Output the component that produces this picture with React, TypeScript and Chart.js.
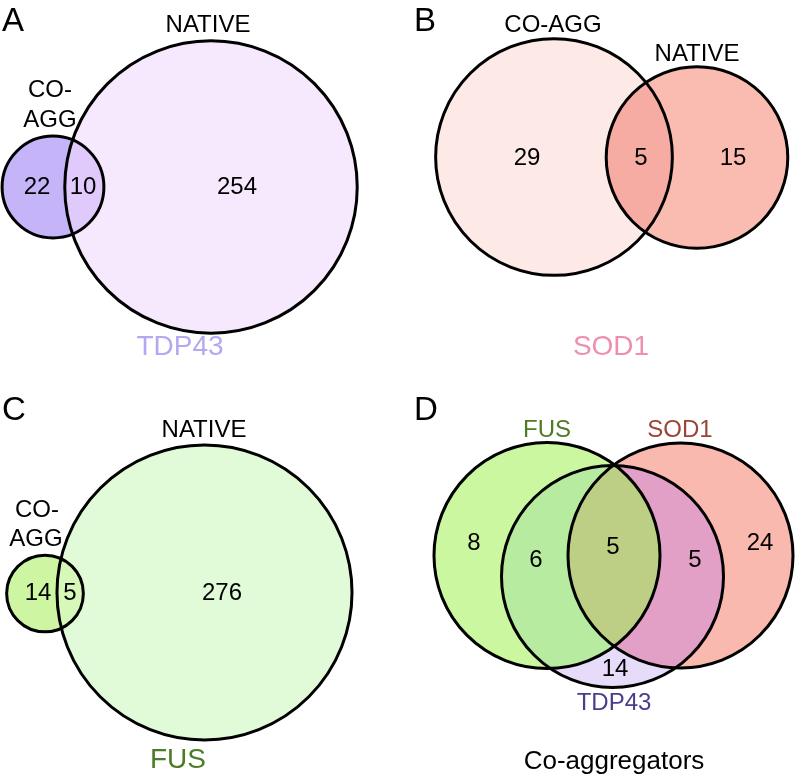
import React, { useEffect, useRef } from "react";
import { Chart, registerables } from "chart.js";

Chart.register(...registerables);

// ---------- DATA ----------
const panelLetters = ["A", "B", "C", "D"];
const setNames = ["TDP43", "SOD1", "FUS"];
// [co-aggregate only, shared, native only]
const tdp43Counts = [22, 10, 254];
const sod1Counts = [29, 5, 15];
const fusCounts = [14, 5, 276];
// co-aggregators: [FUS only, FUS∩TDP43, FUS∩SOD1∩TDP43, SOD1∩TDP43, SOD1 only, TDP43 only]
const coAggCounts = [8, 6, 5, 5, 24, 14];
const pairLabels = ["CO-AGG", "NATIVE"];
const panelDTitle = "Co-aggregators";

// ---------- LAYOUT (data space = 796 x 780) ----------
const FONT = '"Liberation Sans", Arial, Helvetica, sans-serif';
const STROKE = "#000000";

type Circ = { cx: number; cy: number; r: number; fill: string };
type Inter = { idx: number[]; fill: string };
type Txt = { x: number; y: number; t: string; size: number; color: string; align?: CanvasTextAlign };

const total = (a: number[], i: number[]) => i.reduce((s, k) => s + a[k], 0);

// radii proportional to sqrt(set size) in panels A-C
const scaleA = 9.0, scaleB = 20.3, scaleC = 8.8;

const panels: { circles: Circ[]; inters: Inter[] }[] = [
  {
    circles: [
      { cx: 211, cy: 187, r: scaleA * Math.sqrt(total(tdp43Counts, [1, 2])), fill: "#f7e9fd" },
      { cx: 53, cy: 187, r: scaleA * Math.sqrt(total(tdp43Counts, [0, 1])), fill: "#c5b5f8" },
    ],
    inters: [{ idx: [0, 1], fill: "#dfcafb" }],
  },
  {
    circles: [
      { cx: 554, cy: 157, r: scaleB * Math.sqrt(total(sod1Counts, [0, 1])), fill: "#fde9e6" },
      { cx: 697, cy: 157.5, r: scaleB * Math.sqrt(total(sod1Counts, [1, 2])), fill: "#fabbb1" },
    ],
    inters: [{ idx: [0, 1], fill: "#f6aca2" }],
  },
  {
    circles: [
      { cx: 204.5, cy: 592.5, r: scaleC * Math.sqrt(total(fusCounts, [1, 2])), fill: "#e1fad8" },
      { cx: 45, cy: 593.5, r: scaleC * Math.sqrt(total(fusCounts, [0, 1])), fill: "#cdf5a2" },
    ],
    inters: [{ idx: [0, 1], fill: "#d6f8b8" }],
  },
  {
    circles: [
      { cx: 547, cy: 555.5, r: 113, fill: "#ccf7a1" },
      { cx: 680.5, cy: 555.5, r: 112.5, fill: "#fab9ae" },
      { cx: 612.5, cy: 576.5, r: 111, fill: "#e6dcfa" },
    ],
    inters: [
      { idx: [0, 2], fill: "#b6eba0" },
      { idx: [1, 2], fill: "#e2a0c6" },
      { idx: [0, 1], fill: "#bccf84" },
    ],
  },
];

const N = 24;
const texts: Txt[] = [
  // panel letters
  { x: 2, y: 22, t: panelLetters[0], size: 33, color: "#000", align: "left" },
  { x: 414, y: 22, t: panelLetters[1], size: 33, color: "#000", align: "left" },
  { x: 2, y: 411, t: panelLetters[2], size: 33, color: "#000", align: "left" },
  { x: 414, y: 411, t: panelLetters[3], size: 33, color: "#000", align: "left" },
  // A
  { x: 208, y: 25, t: pairLabels[1], size: N, color: "#000" },
  { x: 50, y: 90, t: "CO-", size: N, color: "#000" },
  { x: 50, y: 120, t: "AGG", size: N, color: "#000" },
  { x: 37, y: 187, t: String(tdp43Counts[0]), size: N, color: "#000" },
  { x: 83, y: 187, t: String(tdp43Counts[1]), size: N, color: "#000" },
  { x: 237, y: 187, t: String(tdp43Counts[2]), size: N, color: "#000" },
  { x: 180, y: 347, t: setNames[0], size: 28, color: "#b3a9f0" },
  // B
  { x: 553, y: 25, t: pairLabels[0], size: N, color: "#000" },
  { x: 697, y: 54, t: pairLabels[1], size: N, color: "#000" },
  { x: 527, y: 158, t: String(sod1Counts[0]), size: N, color: "#000" },
  { x: 641, y: 158, t: String(sod1Counts[1]), size: N, color: "#000" },
  { x: 733, y: 158, t: String(sod1Counts[2]), size: N, color: "#000" },
  { x: 611, y: 347, t: setNames[1], size: 28, color: "#ef8fae" },
  // C
  { x: 204, y: 430, t: pairLabels[1], size: N, color: "#000" },
  { x: 37, y: 510, t: "CO-", size: N, color: "#000" },
  { x: 36, y: 539, t: "AGG", size: N, color: "#000" },
  { x: 38, y: 593, t: String(fusCounts[0]), size: N, color: "#000" },
  { x: 70, y: 593, t: String(fusCounts[1]), size: N, color: "#000" },
  { x: 222, y: 593, t: String(fusCounts[2]), size: N, color: "#000" },
  { x: 178, y: 760, t: setNames[2], size: 28, color: "#4e7b25" },
  // D
  { x: 547, y: 430, t: setNames[2], size: N, color: "#4f7a26" },
  { x: 680, y: 430, t: setNames[1], size: N, color: "#9a4535" },
  { x: 474, y: 543, t: String(coAggCounts[0]), size: N, color: "#000" },
  { x: 536, y: 560, t: String(coAggCounts[1]), size: N, color: "#000" },
  { x: 613, y: 547, t: String(coAggCounts[2]), size: N, color: "#000" },
  { x: 695, y: 560, t: String(coAggCounts[3]), size: N, color: "#000" },
  { x: 760, y: 543, t: String(coAggCounts[4]), size: N, color: "#000" },
  { x: 615, y: 669, t: String(coAggCounts[5]), size: N, color: "#000" },
  { x: 614, y: 703, t: setNames[0], size: N, color: "#4b3c8e" },
  { x: 614, y: 762, t: panelDTitle, size: 26, color: "#000" },
];

const vennPlugin = {
  id: "venn",
  beforeDatasetsDraw(chart: any) {
    const ctx: CanvasRenderingContext2D = chart.ctx;
    const xs = chart.scales.x;
    const ys = chart.scales.y;
    const P = (c: Circ) => {
      const px = xs.getPixelForValue(c.cx);
      const py = ys.getPixelForValue(c.cy);
      const r = Math.abs(xs.getPixelForValue(c.cx + c.r) - px);
      return { px, py, r };
    };
    const path = (c: Circ) => {
      const p = P(c);
      ctx.beginPath();
      ctx.arc(p.px, p.py, p.r, 0, Math.PI * 2);
    };
    ctx.save();
    for (const panel of panels) {
      for (const c of panel.circles) {
        path(c);
        ctx.fillStyle = c.fill;
        ctx.fill();
      }
      for (const it of panel.inters) {
        ctx.save();
        for (let k = 0; k < it.idx.length - 1; k++) {
          path(panel.circles[it.idx[k]]);
          ctx.clip();
        }
        path(panel.circles[it.idx[it.idx.length - 1]]);
        ctx.fillStyle = it.fill;
        ctx.fill();
        ctx.restore();
      }
      for (const c of panel.circles) {
        path(c);
        ctx.lineWidth = 3;
        ctx.strokeStyle = STROKE;
        ctx.stroke();
      }
    }
    ctx.textBaseline = "middle";
    for (const t of texts) {
      ctx.font = `${t.size}px ${FONT}`;
      ctx.fillStyle = t.color;
      ctx.textAlign = t.align || "center";
      ctx.fillText(t.t, xs.getPixelForValue(t.x), ys.getPixelForValue(t.y));
    }
    ctx.restore();
  },
};

export default function App() {
  const ref = useRef<HTMLCanvasElement | null>(null);
  useEffect(() => {
    if (!ref.current) return;
    const chart = new Chart(ref.current, {
      type: "scatter",
      data: {
        datasets: [
          {
            data: panels.flatMap((p) => p.circles.map((c) => ({ x: c.cx, y: c.cy }))),
            pointRadius: 0,
            pointHoverRadius: 0,
          },
        ],
      },
      options: {
        animation: false,
        responsive: false,
        maintainAspectRatio: false,
        devicePixelRatio: 1,
        layout: { padding: 0 },
        events: [],
        scales: {
          x: { type: "linear", min: 0, max: 796, display: false },
          y: { type: "linear", min: 0, max: 780, reverse: true, display: false },
        },
        plugins: { legend: { display: false }, tooltip: { enabled: false } },
      },
      plugins: [vennPlugin],
    });
    return () => chart.destroy();
  }, []);
  return (
    <div style={{ position: "absolute", left: 0, top: 0, width: 796, height: 780, background: "#fff" }}>
      <canvas ref={ref} width={796} height={780} style={{ display: "block" }} />
    </div>
  );
}
